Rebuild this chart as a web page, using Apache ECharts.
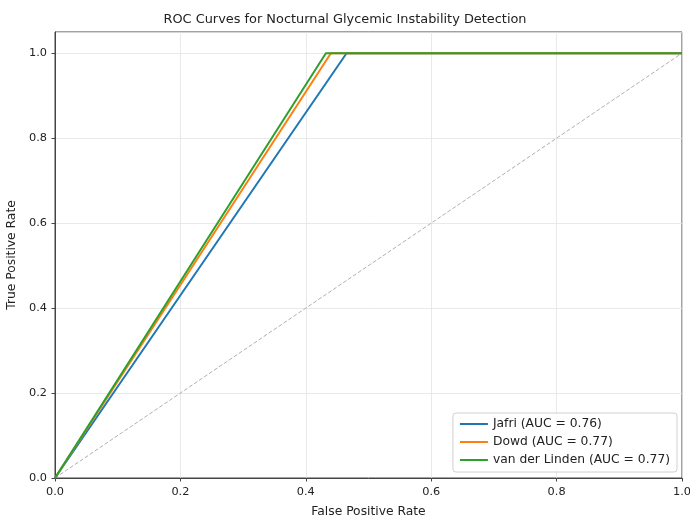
<!DOCTYPE html>
<html><head><meta charset="utf-8">
<script src="https://cdn.jsdelivr.net/npm/echarts@6/dist/echarts.min.js"></script>
<style>html,body{margin:0;padding:0;background:#fff}#c{width:690px;height:515px}</style>
</head><body><div id="c"></div>
<script>
const seriesNames = ['Jafri (AUC = 0.76)', 'Dowd (AUC = 0.77)', 'van der Linden (AUC = 0.77)'];
const colors = ['#1f77b4', '#ff7f0e', '#2ca02c'];
const jafriFPR = [0.0, 0.465, 1.0];
const jafriTPR = [0.0, 1.0, 1.0];
const dowdFPR = [0.0, 0.44, 1.0];
const dowdTPR = [0.0, 1.0, 1.0];
const vdlFPR = [0.0, 0.432, 1.0];
const vdlTPR = [0.0, 1.0, 1.0];
const chanceFPR = [0.0, 1.0];
const chanceTPR = [0.0, 1.0];
const xTicks = [0.0, 0.2, 0.4, 0.6, 0.8, 1.0];
const yTicks = [0.0, 0.2, 0.4, 0.6, 0.8, 1.0];

const zip = (a, b) => a.map((v, i) => [v, b[i]]);
const FONT = 'DejaVu Sans';
const curves = [[jafriFPR, jafriTPR], [dowdFPR, dowdTPR], [vdlFPR, vdlTPR]];

const chart = echarts.init(document.getElementById('c'), null, {renderer: 'canvas'});
const series = [{
  type: 'line', name: 'chance', data: zip(chanceFPR, chanceTPR), showSymbol: false,
  lineStyle: {color: '#b0b0b0', width: 1, type: [4, 2]}, z: 1, silent: true
}].concat(curves.map((c, i) => ({
  type: 'line', name: seriesNames[i], data: zip(c[0], c[1]), showSymbol: false,
  lineStyle: {color: colors[i], width: 2}, itemStyle: {color: colors[i]}, z: 2 + i
})));

const mk = ticks => v => ticks.some(t => Math.abs(t - v) < 1e-9) ? v.toFixed(1) : '';

chart.setOption({
  animation: false,
  backgroundColor: '#ffffff',
  title: {
    text: 'ROC Curves for Nocturnal Glycemic Instability Detection',
    left: 'center', top: 13, padding: 0,
    textStyle: {fontFamily: FONT, fontSize: 12.9, fontWeight: 'normal', color: '#222'}
  },
  grid: {left: 55, right: 8, top: 32, bottom: 37, show: true, borderColor: '#444', borderWidth: 1,
         containLabel: false, outerBoundsMode: 'none'},
  legend: {
    data: seriesNames.map(n => ({name: n, icon: 'rect'})),
    orient: 'vertical', right: 13, bottom: 43,
    itemWidth: 28, itemHeight: 2, itemGap: 6,
    padding: [5, 7, 6, 7],
    backgroundColor: 'rgba(255,255,255,0.8)', borderColor: '#d0d0d0', borderWidth: 1, borderRadius: 3,
    textStyle: {fontFamily: FONT, fontSize: 12.3, color: '#222'}
  },
  xAxis: {
    type: 'value', min: 0, max: 1, interval: 0.2,
    name: 'False Positive Rate', nameLocation: 'middle', nameGap: 28,
    nameTextStyle: {fontFamily: FONT, fontSize: 12.3, color: '#222'},
    axisLine: {show: true, lineStyle: {color: '#444', width: 1}},
    axisTick: {show: true, length: 3.5, lineStyle: {color: '#444'}},
    axisLabel: {fontFamily: FONT, fontSize: 11.3, color: '#222', margin: 9, formatter: mk(xTicks)},
    splitLine: {show: true, lineStyle: {color: '#e3e3e3', width: 0.8}}
  },
  yAxis: {
    type: 'value', min: 0, max: 1.05, interval: 0.2,
    name: 'True Positive Rate', nameLocation: 'middle', nameGap: 28,
    nameTextStyle: {fontFamily: FONT, fontSize: 12.3, color: '#222'},
    axisLine: {show: true, lineStyle: {color: '#444', width: 1}},
    axisTick: {show: true, length: 3.5, lineStyle: {color: '#444'}},
    axisLabel: {fontFamily: FONT, fontSize: 11.3, color: '#222', margin: 8, showMaxLabel: false, formatter: mk(yTicks)},
    splitLine: {show: true, lineStyle: {color: '#e3e3e3', width: 0.8}}
  },
  series: series
});
</script></body></html>
